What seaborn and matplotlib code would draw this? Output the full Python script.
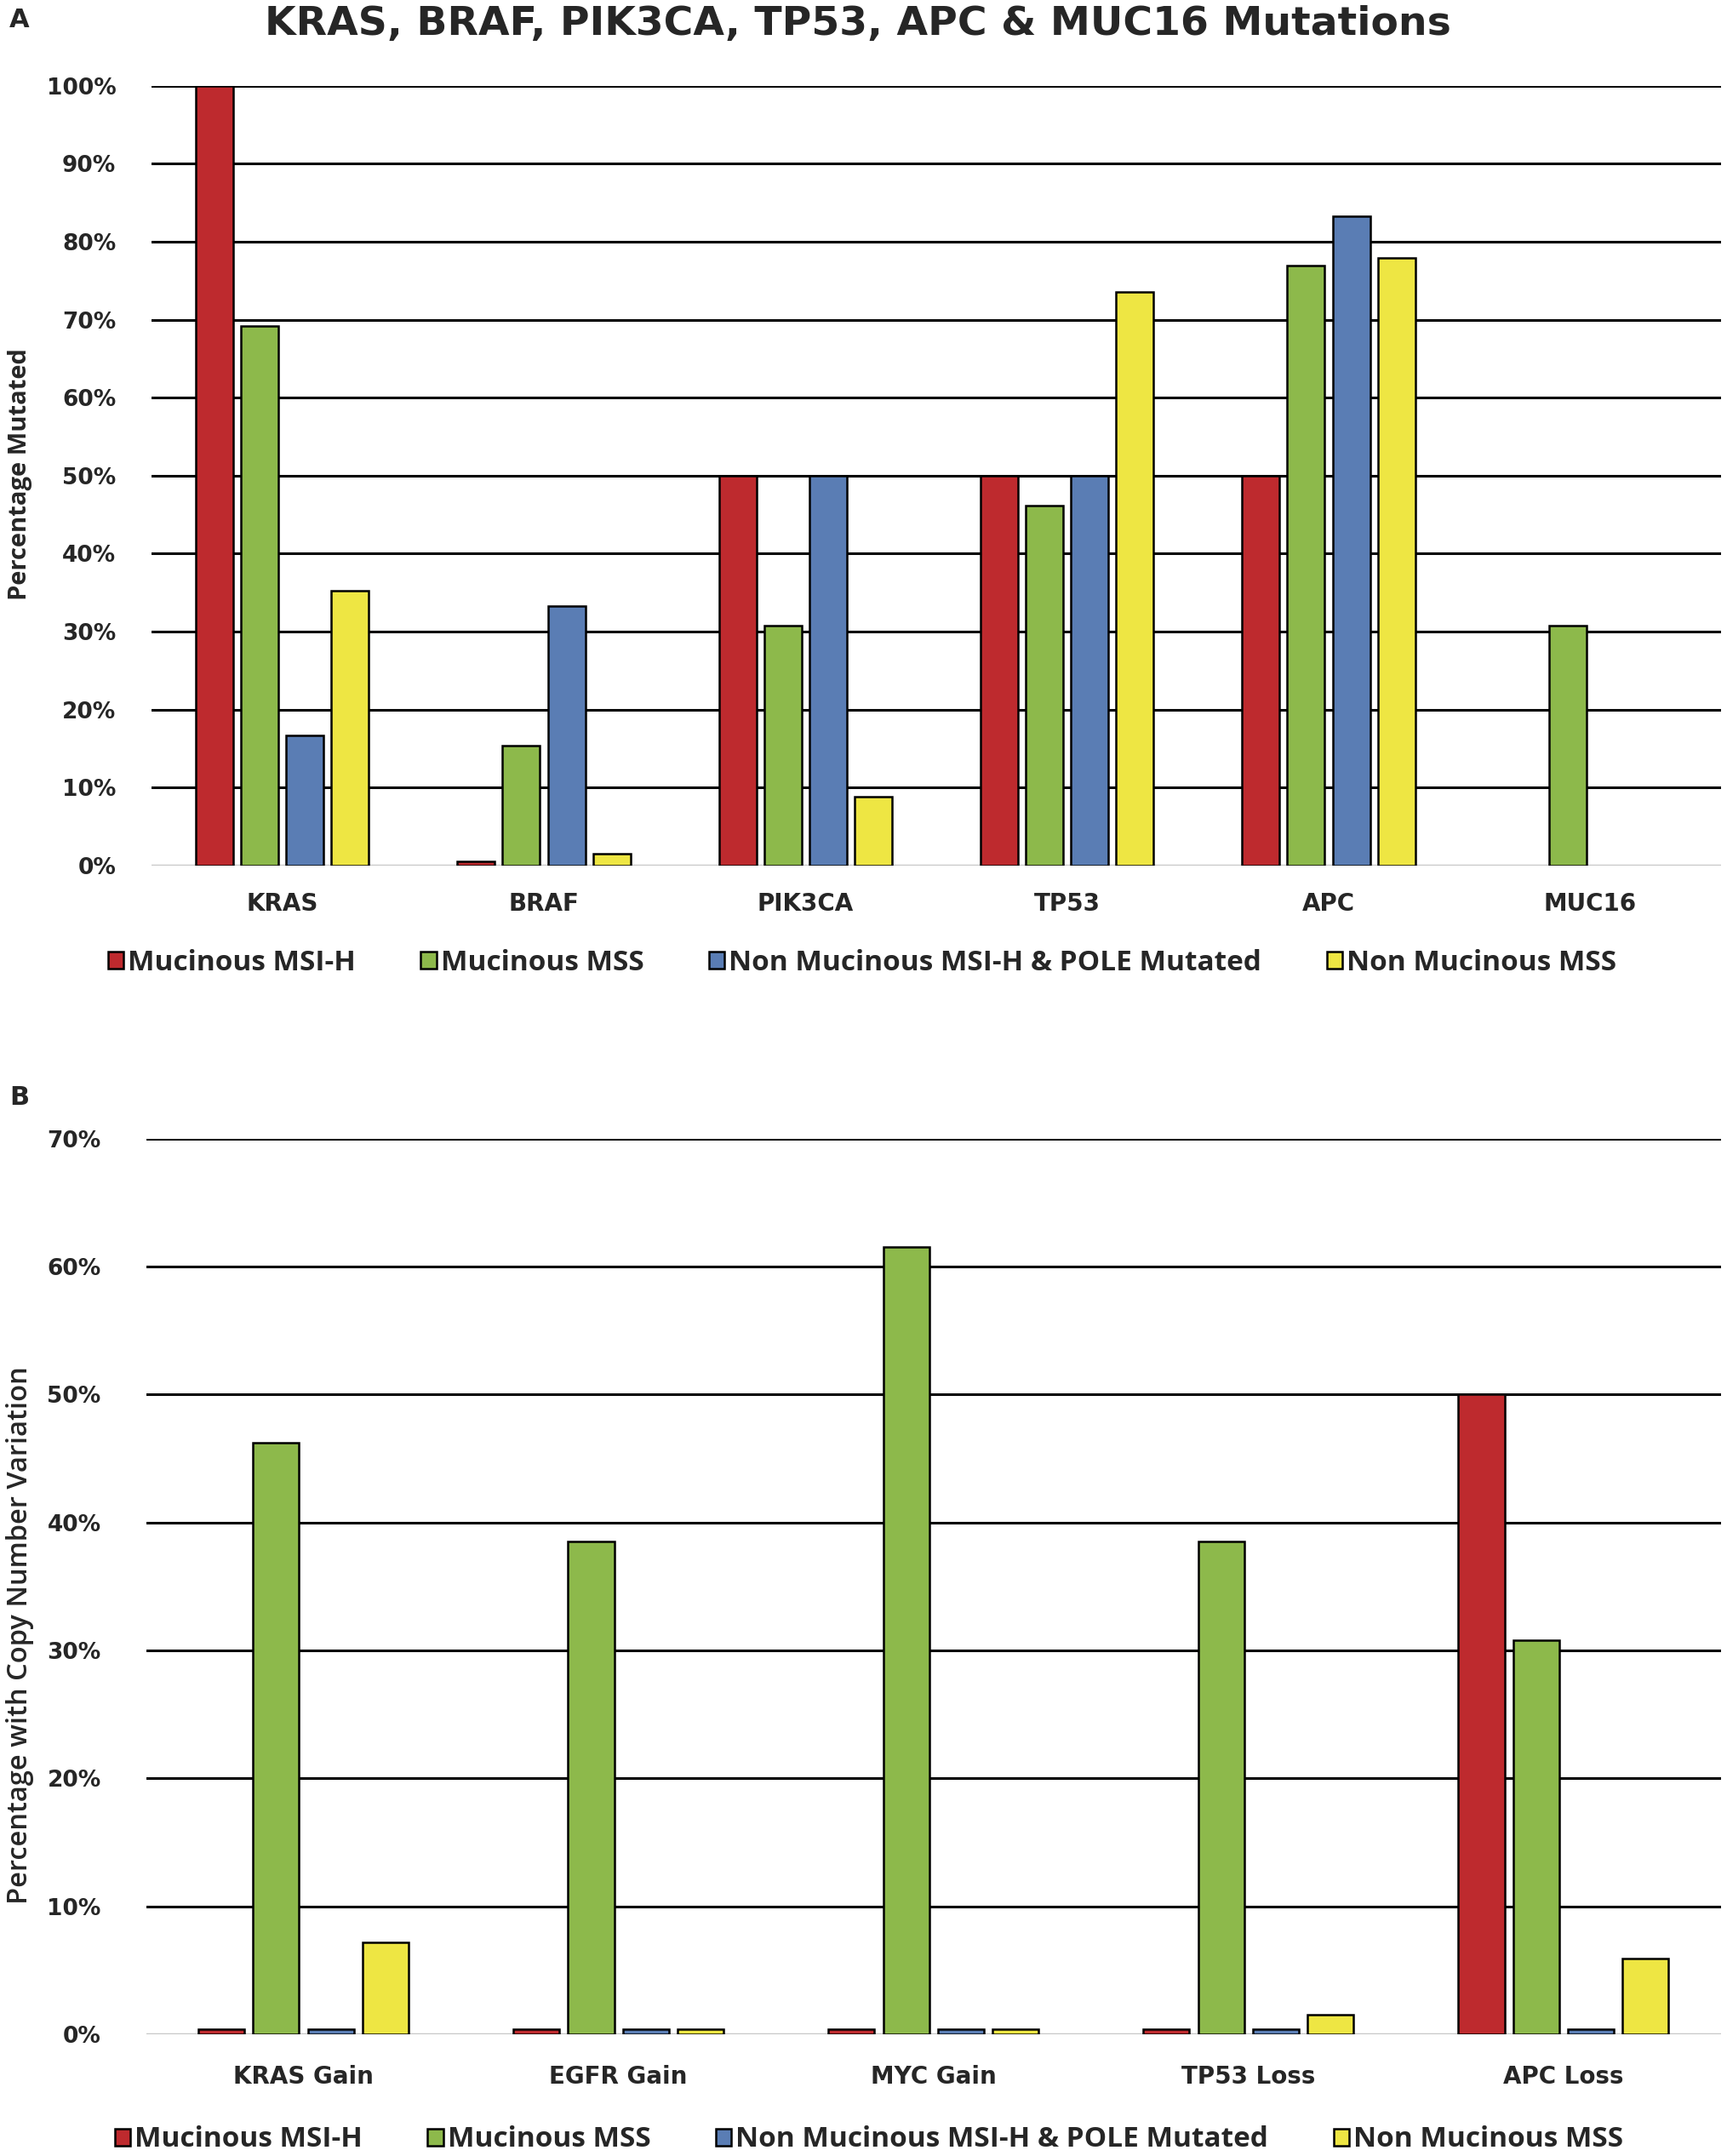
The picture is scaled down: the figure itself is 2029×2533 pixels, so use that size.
import matplotlib
matplotlib.use("Agg")
import matplotlib.pyplot as plt
import matplotlib.patches as mpatches
import seaborn as sns
import pandas as pd

# ---- data ----
groups = ["Mucinous MSI-H", "Mucinous MSS", "Non Mucinous MSI-H & POLE Mutated", "Non Mucinous MSS"]
colors = ["#BE2A2E", "#8DB94B", "#5A7DB4", "#EEE643"]

genes_a = ["KRAS", "BRAF", "PIK3CA", "TP53", "APC", "MUC16"]
a_msi_muc = [100, 0.5, 50, 50, 50, 0]
a_mss_muc = [69.2, 15.4, 30.8, 46.2, 76.9, 30.8]
a_msi_non = [16.7, 33.3, 50, 50, 83.3, 0]
a_mss_non = [35.3, 1.5, 8.8, 73.5, 77.9, 0]

genes_b = ["KRAS Gain", "EGFR Gain", "MYC Gain", "TP53 Loss", "APC Loss"]
b_msi_muc = [0.4, 0.4, 0.4, 0.4, 50]
b_mss_muc = [46.2, 38.5, 61.5, 38.5, 30.8]
b_msi_non = [0.4, 0.4, 0.4, 0.4, 0.4]
b_mss_non = [7.2, 0.4, 0.4, 1.5, 5.9]

yticks_a = [0, 10, 20, 30, 40, 50, 60, 70, 80, 90, 100]
yticks_b = [0, 10, 20, 30, 40, 50, 60, 70]


def long_df(genes, series):
    rows = []
    for g, vals in zip(groups, series):
        for gene, v in zip(genes, vals):
            rows.append({"gene": gene, "group": g, "value": v})
    return pd.DataFrame(rows)


df_a = long_df(genes_a, [a_msi_muc, a_mss_muc, a_msi_non, a_mss_non])
df_b = long_df(genes_b, [b_msi_muc, b_mss_muc, b_msi_non, b_mss_non])

sns.set_theme(style="white")
LABELFONT = ["Open Sans", "DejaVu Sans"]
TICKFONT = ["DejaVu Sans"]
plt.rcParams["font.family"] = LABELFONT

W, H = 2029, 2533
fig = plt.figure(figsize=(W / 100, H / 100), dpi=100)


def style_axis(ax, yticks, ymax):
    ax.set_ylim(0, ymax)
    ax.set_yticks(yticks)
    ax.set_yticklabels([f"{t}%" for t in yticks], fontfamily=TICKFONT,
                       fontweight="bold", fontsize=19)
    ax.yaxis.grid(True, color="black", linewidth=2.2)
    ax.set_axisbelow(True)
    gl = ax.get_ygridlines()
    gl[0].set_color("#c8c8c8")
    gl[0].set_linewidth(2.5)
    for s in ax.spines.values():
        s.set_visible(False)
    ax.tick_params(axis="both", length=0)
    ax.set_xlabel("")
    ax.set_ylabel("")
    for p in ax.patches:
        if p.get_height() == 0:
            p.set_visible(False)


# ---- Panel A ----
axA = fig.add_axes([178 / W, 1 - 1017 / H, (2022 - 178) / W, (1017 - 100.6) / H])
sns.barplot(data=df_a, x="gene", y="value", hue="group", hue_order=groups,
            order=genes_a, palette=colors, width=0.69, gap=0.17,
            edgecolor="black", linewidth=1.8, legend=False, ax=axA, errorbar=None,
            saturation=1)
style_axis(axA, yticks_a, 100)
axA.set_xlim(-0.5, len(genes_a) - 0.5)
axA.set_xticks(range(len(genes_a)))
axA.set_xticklabels(genes_a, fontfamily=TICKFONT, fontweight="bold", fontsize=20)
axA.tick_params(axis="x", pad=22)
axA.tick_params(axis="y", pad=30)

# ---- Panel B ----
axB = fig.add_axes([171.5 / W, 1 - 2390 / H, (2022 - 171.5) / W, (2390 - 1337.6) / H])
sns.barplot(data=df_b, x="gene", y="value", hue="group", hue_order=groups,
            order=genes_b, palette=colors, width=0.695, gap=0.16,
            edgecolor="black", linewidth=1.8, legend=False, ax=axB, errorbar=None,
            saturation=1)
style_axis(axB, yticks_b, 70)
axB.set_xlim(-0.5, len(genes_b) - 0.5)
axB.set_xticks(range(len(genes_b)))
axB.set_xticklabels(genes_b, fontfamily=TICKFONT, fontweight="bold", fontsize=20)
axB.tick_params(axis="x", pad=26)
axB.tick_params(axis="y", pad=38)

# ---- titles, labels ----
fig.text(1008 / W, 1 - 28 / H, "KRAS, BRAF, PIK3CA, TP53, APC & MUC16 Mutations",
         ha="center", va="center", fontsize=34, fontweight="bold", fontfamily=TICKFONT)
fig.text(11 / W, 1 - 24 / H, "A", ha="left", va="center", fontsize=22,
         fontweight="bold", fontfamily=TICKFONT)
fig.text(11 / W, 1 - 1290 / H, "B", ha="left", va="center", fontsize=22,
         fontweight="bold", fontfamily=TICKFONT)
fig.text(24 / W, 1 - 557 / H, "Percentage Mutated", rotation=90, ha="center",
         va="center", fontsize=21, fontweight="bold", fontfamily=LABELFONT)
fig.text(24 / W, 1 - 1921 / H, "Percentage with Copy Number Variation", rotation=90,
         ha="center", va="center", fontsize=23.5, fontweight="semibold",
         fontfamily=LABELFONT)

# ---- legends ----
handles = [mpatches.Patch(facecolor=c, edgecolor="black", linewidth=1.8, label=g)
           for c, g in zip(colors, groups)]
for ycen, xcen in [(1131, 1013), (2514, 1021)]:
    fig.legend(handles=handles, loc="center", bbox_to_anchor=(xcen / W, 1 - ycen / H),
               ncol=4, frameon=False,
               prop={"family": LABELFONT, "weight": "bold", "size": 24},
               handlelength=0.55, handleheight=0.55, handletextpad=0.15,
               columnspacing=2.3, borderpad=0)

fig.savefig("out.png", dpi=100, facecolor="white")
